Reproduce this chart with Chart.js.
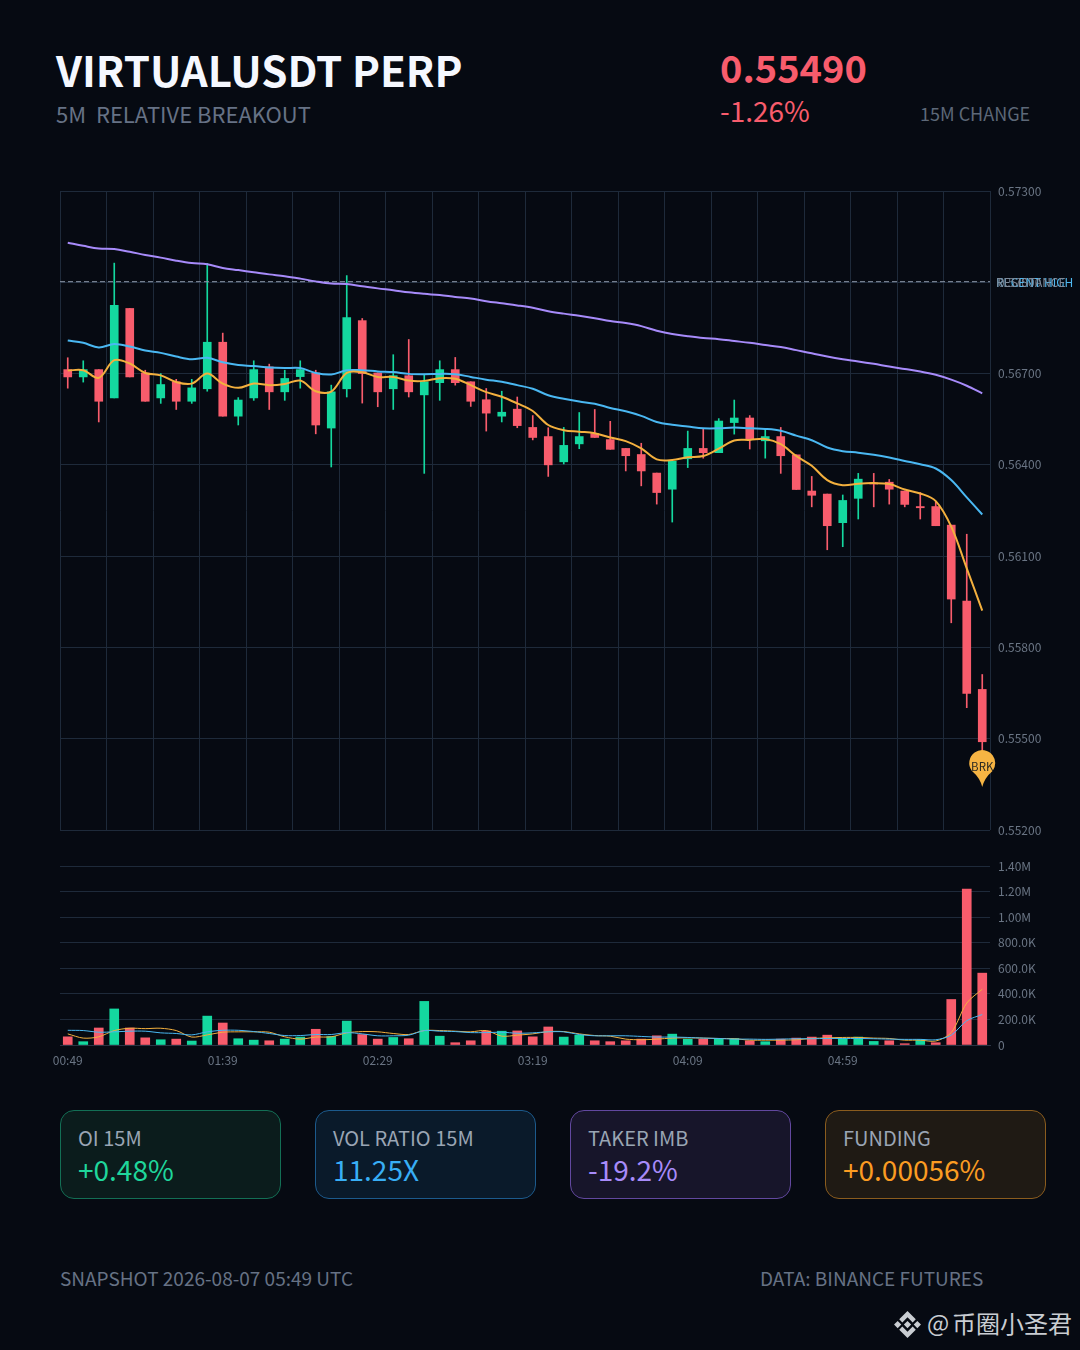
<!DOCTYPE html>
<html><head><meta charset="utf-8">
<script src="https://cdn.jsdelivr.net/npm/chart.js@4"></script>
<style>
html,body{margin:0;padding:0;background:#060a12;}
body{width:1080px;height:1350px;position:relative;overflow:hidden;font-family:"Noto Sans CJK SC","Noto Sans",sans-serif;}
.t{position:absolute;white-space:pre;line-height:1;}
canvas{position:absolute;left:0;}
.card{position:absolute;top:1110px;width:219px;height:87px;border-radius:14px;border:1px solid;}
.card .l{position:absolute;left:17px;top:15px;font-size:20px;line-height:24px;color:#9aa5b4;white-space:pre;}
.card .v{position:absolute;left:17px;top:41px;font-size:28px;line-height:34px;white-space:pre;}
</style></head><body>
<div class="t" style="left:56px;top:48px;font-size:42px;font-weight:700;color:#f5f8ff;">VIRTUALUSDT PERP</div>
<div class="t" style="left:56px;top:102px;font-size:22px;color:#667285;">5M  RELATIVE BREAKOUT</div>
<div class="t" style="left:720px;top:48px;font-size:38px;font-weight:700;color:#f85c6c;">0.55490</div>
<div class="t" style="left:720px;top:96px;font-size:28px;color:#f85c6c;">-1.26%</div>
<div class="t" style="left:920px;top:104px;font-size:18px;color:#5d6878;">15M CHANGE</div>
<canvas id="price" width="1080" height="860" style="top:0;width:1080px;height:860px"></canvas>
<canvas id="vol" width="1080" height="230" style="top:850px;width:1080px;height:230px"></canvas>
<div class="card" style="left:60px;background:#0b1c1c;border-color:#136f55"><div class="l">OI 15M</div><div class="v" style="color:#1fd69b">+0.48%</div></div>
<div class="card" style="left:315px;background:#0a1a2a;border-color:#1c5a8c"><div class="l">VOL RATIO 15M</div><div class="v" style="color:#38aef5">11.25X</div></div>
<div class="card" style="left:570px;background:#17152a;border-color:#62489f"><div class="l">TAKER IMB</div><div class="v" style="color:#a78bfa">-19.2%</div></div>
<div class="card" style="left:825px;background:#1f1a14;border-color:#8a5c1e"><div class="l">FUNDING</div><div class="v" style="color:#fb9c22">+0.00056%</div></div>
<div class="t" style="left:60px;top:1268px;font-size:19px;color:#667285;">SNAPSHOT 2026-08-07 05:49 UTC</div>
<div class="t" style="left:760px;top:1268px;font-size:19px;color:#667285;">DATA: BINANCE FUTURES</div>
<svg style="position:absolute;left:893px;top:1310px" width="29" height="29" viewBox="0 0 28 28" fill="#c9cdd2">
<path d="M14 1 L22 9 L19 12 L14 7 L9 12 L6 9Z M14 27 L22 19 L19 16 L14 21 L9 16 L6 19Z M14 10.5 L17.5 14 L14 17.5 L10.5 14Z M4.5 10.5 L8 14 L4.5 17.5 L1 14Z M23.5 10.5 L27 14 L23.5 17.5 L20 14Z"/></svg>
<div class="t" style="left:927px;top:1311px;font-size:23.5px;color:#c9cdd2;">@</div>
<div class="t" style="left:952px;top:1311px;font-size:24px;color:#c9cdd2;">币圈小圣君</div>
<script>
const categories=["00:49","00:54","00:59","01:04","01:09","01:14","01:19","01:24","01:29","01:34",
"01:39","01:44","01:49","01:54","01:59","02:04","02:09","02:14","02:19","02:24",
"02:29","02:34","02:39","02:44","02:49","02:54","02:59","03:04","03:09","03:14",
"03:19","03:24","03:29","03:34","03:39","03:44","03:49","03:54","03:59","04:04",
"04:09","04:14","04:19","04:24","04:29","04:34","04:39","04:44","04:49","04:54",
"04:59","05:04","05:09","05:14","05:19","05:24","05:29","05:34","05:39","05:44"];
const opens=[.56713,.56689,.56713,.56620,.56914,.56702,.56620,.56673,.56609,.56650,
.56803,.56560,.56620,.56722,.56640,.56690,.56702,.56521,.56650,.56874,
.56702,.56650,.56693,.56630,.56670,.56713,.56673,.56614,.56560,.56583,
.56523,.56493,.56410,.56469,.56503,.56483,.56454,.56434,.56373,.56320,
.56420,.56454,.56440,.56539,.56554,.56479,.56493,.56433,.56314,.56304,
.56210,.56290,.56341,.56343,.56314,.56263,.56263,.56202,.55952,.55662];
const highs=[.56752,.56742,.56713,.57063,.56914,.56711,.56700,.56681,.56681,.57062,
.56833,.56621,.56742,.56731,.56711,.56742,.56711,.56662,.57022,.56881,
.56702,.56762,.56812,.56695,.56742,.56753,.56673,.56651,.56642,.56623,
.56562,.56522,.56523,.56572,.56582,.56543,.56454,.56471,.56373,.56412,
.56511,.56520,.56552,.56613,.56562,.56520,.56523,.56433,.56362,.56304,
.56301,.56372,.56372,.56352,.56314,.56309,.56278,.56202,.56172,.55711];
const lows=[.56652,.56672,.56541,.56620,.56689,.56609,.56602,.56582,.56602,.56642,
.56560,.56531,.56612,.56582,.56612,.56652,.56502,.56393,.56623,.56603,
.56591,.56582,.56623,.56372,.56612,.56662,.56592,.56511,.56541,.56522,
.56482,.56362,.56403,.56453,.56490,.56451,.56380,.56331,.56271,.56212,
.56391,.56422,.56440,.56501,.56452,.56422,.56372,.56319,.56262,.56121,
.56131,.56222,.56262,.56271,.56262,.56222,.56200,.55881,.55602,.55461];
const closes=[.56689,.56713,.56609,.56924,.56689,.56609,.56664,.56609,.56653,.56803,
.56560,.56613,.56713,.56640,.56684,.56713,.56531,.56640,.56884,.56700,
.56640,.56693,.56640,.56673,.56713,.56670,.56609,.56570,.56573,.56529,
.56490,.56400,.56464,.56493,.56490,.56451,.56430,.56380,.56309,.56412,
.56454,.56440,.56544,.56554,.56483,.56493,.56430,.56319,.56300,.56200,
.56283,.56353,.56337,.56320,.56270,.56259,.56200,.55959,.55649,.55490];
const fastLine=[.56710,.56711,.56686,.56744,.56733,.56702,.56694,.56672,.56667,.56700,
.56667,.56653,.56667,.56662,.56666,.56677,.56642,.56641,.56702,.56704,
.56689,.56689,.56677,.56676,.56685,.56683,.56662,.56639,.56624,.56602,
.56577,.56531,.56514,.56509,.56504,.56490,.56478,.56454,.56418,.56416,
.56425,.56429,.56453,.56480,.56482,.56485,.56468,.56429,.56397,.56350,
.56333,.56338,.56340,.56337,.56319,.56306,.56281,.56197,.56060,.55921];
const midLine=[.56809,.56801,.56786,.56797,.56789,.56776,.56768,.56756,.56747,.56752,
.56737,.56728,.56725,.56720,.56718,.56718,.56702,.56697,.56711,.56711,
.56707,.56705,.56699,.56698,.56699,.56698,.56689,.56680,.56673,.56662,
.56650,.56629,.56617,.56608,.56601,.56587,.56576,.56561,.56541,.56532,
.56526,.56520,.56520,.56523,.56520,.56518,.56512,.56496,.56481,.56457,
.56445,.56440,.56433,.56424,.56413,.56402,.56388,.56350,.56293,.56237];
const slowLine=[.57130,.57120,.57111,.57109,.57100,.57090,.57081,.57071,.57063,.57059,
.57047,.57040,.57033,.57026,.57020,.57012,.57003,.56996,.56994,.56987,
.56980,.56974,.56967,.56962,.56958,.56952,.56947,.56938,.56931,.56924,
.56916,.56905,.56897,.56890,.56882,.56873,.56866,.56856,.56841,.56830,
.56823,.56817,.56813,.56807,.56801,.56794,.56787,.56777,.56767,.56756,
.56747,.56740,.56732,.56723,.56715,.56707,.56696,.56680,.56660,.56635];
const volumes=[64e3,26e3,133e3,282e3,133e3,56e3,41e3,46e3,31e3,226e3,
172e3,49e3,38e3,33e3,46e3,62e3,123e3,67e3,187e3,82e3,
46e3,59e3,49e3,341e3,69e3,18e3,33e3,110e3,108e3,110e3,
64e3,141e3,62e3,77e3,33e3,26e3,33e3,46e3,72e3,85e3,
46e3,46e3,51e3,51e3,33e3,26e3,46e3,54e3,62e3,77e3,
51e3,62e3,28e3,33e3,10e3,41e3,18e3,356e3,1219e3,562e3];
const volumeSide=["d","u","d","u","d","d","u","d","u","u","d","u","u","d","u","u","d","u","u","d",
"d","u","d","u","u","d","d","d","u","d","d","d","u","u","d","d","d","d","d","u",
"u","d","u","u","d","u","d","d","d","d","u","u","u","d","d","u","d","d","d","d"];
const volFast=[87e3,54e3,64e3,113e3,131e3,128e3,131e3,113e3,62e3,79e3,
100e3,103e3,103e3,100e3,64e3,46e3,62e3,64e3,95e3,105e3,
103e3,90e3,82e3,113e3,113e3,108e3,103e3,113e3,69e3,77e3,
87e3,105e3,105e3,87e3,74e3,69e3,46e3,41e3,46e3,54e3,
56e3,54e3,51e3,49e3,38e3,38e3,38e3,41e3,51e3,56e3,
59e3,59e3,54e3,51e3,38e3,38e3,31e3,97e3,328e3,436e3];
const volSlow=[115e3,113e3,100e3,103e3,108e3,108e3,95e3,90e3,79e3,103e3,
115e3,115e3,105e3,90e3,74e3,74e3,82e3,82e3,97e3,87e3,
72e3,72e3,77e3,113e3,108e3,105e3,97e3,97e3,100e3,92e3,
95e3,103e3,103e3,82e3,72e3,72e3,72e3,67e3,62e3,62e3,
59e3,54e3,51e3,46e3,46e3,44e3,46e3,49e3,49e3,51e3,
51e3,51e3,49e3,46e3,44e3,44e3,41e3,77e3,190e3,238e3];
const priceTicks=[.552,.555,.558,.561,.564,.567,.57,.573];
const volumeTicks=[0,2e5,4e5,6e5,8e5,1e6,12e5,14e5];
const timeTickIndex=[0,10,20,30,40,50];
const gridBoundaries=[-.5,2.5,5.5,8.5,11.5,14.5,17.5,20.5,23.5,26.5,29.5,32.5,35.5,38.5,41.5,44.5,47.5,50.5,53.5,56.5,59.5];
const recentHigh=.57002, breakoutIndex=59, breakoutTip=.55341;
const RED="#f85c6c",GREEN="#14d89f",GRID="#1e2a3a",TXT="#6a7584";
Chart.defaults.font.family='"Noto Sans CJK SC","Noto Sans",sans-serif';
Chart.defaults.animation=false;
const pts=a=>a.map((v,i)=>({x:i,y:v}));
const noLeg={legend:{display:false},tooltip:{enabled:false}};
const side=i=>closes[i]>opens[i]?GREEN:RED;

const overlay={id:"overlay",afterDatasetsDraw(c){
  const x=c.scales.x,y=c.scales.y,g=c.ctx;
  const ly=y.getPixelForValue(recentHigh);
  g.save();g.font='12px "Noto Sans CJK SC"';g.textBaseline="middle";g.textAlign="left";
  g.fillStyle="#4fb8f0";g.fillText("RECENT HIGH",996,ly+1);
  g.fillStyle="#7f8a99";g.fillText("RESISTANCE",996,ly+1);
  const cx=x.getPixelForValue(breakoutIndex),tip=y.getPixelForValue(breakoutTip),cy=tip-24,r=13;
  g.beginPath();
  g.arc(cx,cy,r,Math.PI*.8,Math.PI*2.2);
  g.quadraticCurveTo(cx+2,tip-9,cx,tip);
  g.quadraticCurveTo(cx-2,tip-9,cx-r*Math.cos(Math.PI*.2),cy+r*Math.sin(Math.PI*.2));
  g.closePath();g.fillStyle="#f6b443";g.fill();
  g.fillStyle="#2b2a22";g.font='11.5px "Noto Sans CJK SC"';g.textAlign="center";g.fillText("BRK",cx,cy+4);
  g.restore();
}};

new Chart(document.getElementById("price"),{type:"bar",plugins:[overlay],data:{datasets:[
 {type:"line",data:pts(fastLine),borderColor:"#f3b03e",borderWidth:2,pointRadius:0,tension:.35,order:0},
 {type:"line",data:pts(midLine),borderColor:"#4ab8f2",borderWidth:2,pointRadius:0,tension:.35,order:1},
 {type:"line",data:pts(slowLine),borderColor:"#a78bfa",borderWidth:2,pointRadius:0,tension:.35,order:2},
 {type:"line",data:[{x:-.5,y:recentHigh},{x:59.5,y:recentHigh}],borderColor:"#8b97a8",borderWidth:1,borderDash:[5,3],pointRadius:0,order:3},
 {data:opens.map((o,i)=>({x:i,y:[o,closes[i]]})),backgroundColor:opens.map((o,i)=>side(i)),barThickness:8,grouped:false,order:4},
 {data:lows.map((l,i)=>({x:i,y:[l,highs[i]]})),backgroundColor:opens.map((o,i)=>side(i)),barThickness:1,grouped:false,order:5}
]},options:{responsive:false,devicePixelRatio:1,layout:{padding:{left:60,top:191,bottom:30,right:0},autoPadding:false},plugins:noLeg,
 scales:{
  x:{type:"linear",offset:false,min:-.5,max:59.5,afterBuildTicks(a){a.ticks=gridBoundaries.map(v=>({value:v}))},grid:{offset:false,color:GRID,drawTicks:false,lineWidth:1},border:{display:false},ticks:{display:false,autoSkip:false},afterFit(s){s.height=0}},
  y:{position:"right",min:.552,max:.573,afterBuildTicks(a){a.ticks=priceTicks.map(v=>({value:v}))},afterFit(s){s.width=90},grid:{color:GRID,drawTicks:false},border:{display:false},ticks:{color:TXT,font:{size:12},padding:8,autoSkip:false,callback:v=>v.toFixed(5)}}
 }}});

const volLabel=v=>v===0?"0":v>=1e6?(v/1e6).toFixed(2)+"M":(v/1e3).toFixed(1)+"K";
new Chart(document.getElementById("vol"),{type:"bar",data:{datasets:[
 {type:"line",data:pts(volSlow),borderColor:"#4ab8f2",borderWidth:1,pointRadius:0,tension:.3,order:0},
 {type:"line",data:pts(volFast),borderColor:"#f3b03e",borderWidth:1,pointRadius:0,tension:.3,order:1},
 {data:pts(volumes),backgroundColor:volumeSide.map(s=>s==="u"?GREEN:RED),barThickness:9,grouped:false,order:2}
]},options:{responsive:false,devicePixelRatio:1,layout:{padding:{left:60,top:16,bottom:0,right:0},autoPadding:false},plugins:noLeg,
 scales:{
  x:{type:"linear",offset:false,min:-.5,max:59.5,afterBuildTicks(a){a.ticks=timeTickIndex.map(v=>({value:v}))},afterFit(s){s.height=35},grid:{display:false},border:{color:"#2a3444"},ticks:{color:TXT,font:{size:12},autoSkip:false,maxRotation:0,padding:0,callback:v=>categories[v]}},
  y:{position:"right",min:0,max:14e5,afterBuildTicks(a){a.ticks=volumeTicks.map(v=>({value:v}))},afterFit(s){s.width=90},grid:{color:GRID,drawTicks:false},border:{display:false},ticks:{color:TXT,font:{size:12},padding:8,autoSkip:false,callback:volLabel}}
 }}});
</script>
</body></html>
